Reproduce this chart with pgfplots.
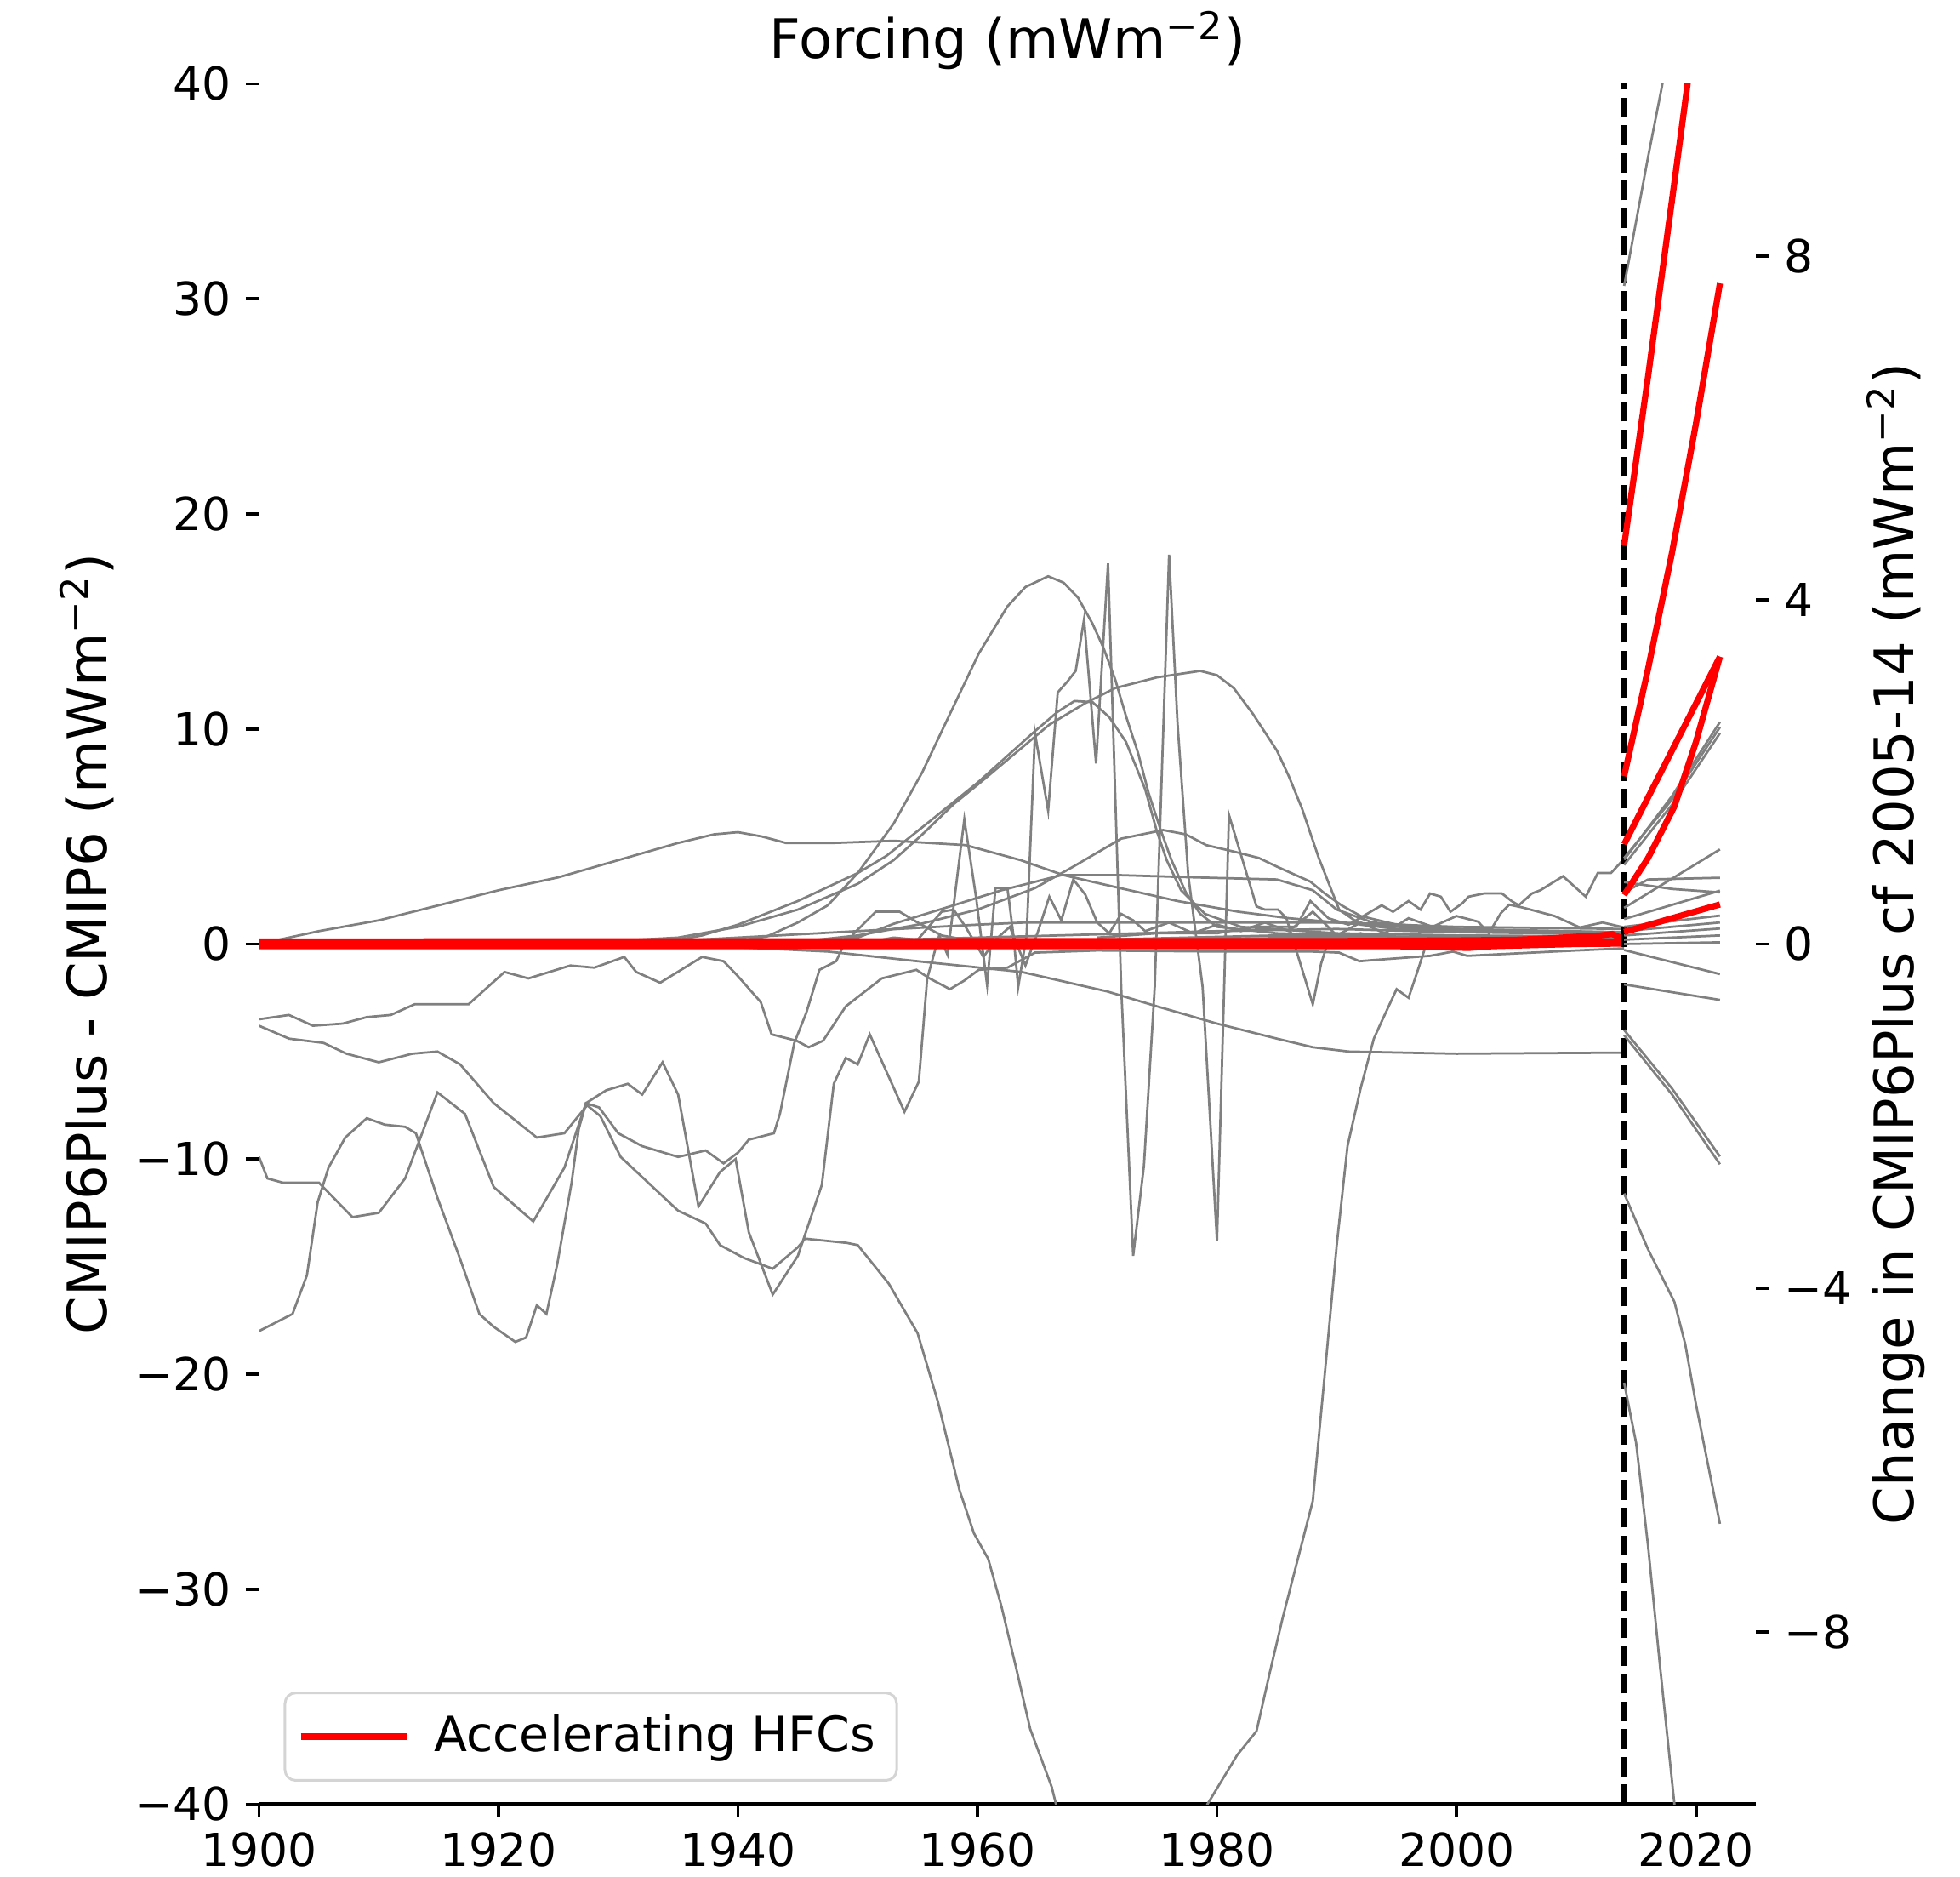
\documentclass[border=0pt]{standalone}
\usepackage{fontspec}
\setmainfont{DejaVu Sans}
\usepackage{pgfplots}
\pgfplotsset{compat=1.18}
\definecolor{lgrey}{RGB}{128,128,128}
\definecolor{hred}{RGB}{255,0,0}
\definecolor{legbd}{RGB}{212,212,212}
\newcommand{\tickfont}{\fontsize{10.7}{12.8}\selectfont}
\newcommand{\labfont}{\fontsize{12.8}{15.4}\selectfont}
\newcommand{\legfont}{\fontsize{11.4}{13.6}\selectfont}
\pgfplotsset{
  base/.style={
    scale only axis, width=351.9pt, height=404.4pt,
    at={(0pt,0pt)}, anchor=south west,
    xmin=1900, xmax=2025,
    tick align=outside, major tick length=3.1pt,
    tick style={black, line width=0.75pt},
    ticklabel style={font=\tickfont},
  },
  gl/.style={lgrey, line width=0.55pt, forget plot},
  rl/.style={hred, line width=1.45pt, forget plot},
}
\begin{document}
\begin{tikzpicture}
\begin{axis}[base,
  ymin=-40, ymax=40,
  axis x line*=bottom, axis y line*=left,
  x axis line style={line width=0.85pt},
  y axis line style={draw=none},
  xtick={1900,1920,1940,1960,1980,2000,2020},
  xticklabels={1900,1920,1940,1960,1980,2000,2020},
  ytick={-40,-30,-20,-10,0,10,20,30,40},
  yticklabels={−40,−30,−20,−10,0,10,20,30,40},
  legend style={at={(0,0)}, anchor=south west, xshift=5.8pt, yshift=5.3pt,
    draw=legbd, line width=0.6pt, rounded corners=2.5pt, fill=white,
    font=\legfont, inner xsep=3pt, inner ysep=3.2pt,
    /tikz/every odd column/.append style={column sep=3.6pt}},
  legend cell align=left,
  legend image code/.code={\draw[#1] (0pt,0pt) -- (25pt,0pt);},
]
% A
\addplot[gl] coordinates {(1900,0)(1905,0.6)(1910,1.1)(1915,1.8)(1920,2.5)(1925,3.1)(1930,3.9)(1935,4.7)(1938,5.1)(1940,5.2)(1942,5.0)(1944,4.7)(1948,4.7)(1953,4.8)(1959,4.6)(1963.6,3.9)(1967.2,3.2)(1971.9,2.6)(1976.7,2.0)(1981.8,1.5)(1986,1.2)(1990,1.0)(1995,0.8)(2000,0.7)(2005,0.6)(2010,0.5)(2014,0.45)};
% B
\addplot[gl] coordinates {(1930,0)(1935,0.05)(1940,0.15)(1942.4,0.35)(1945,1.0)(1947.5,1.8)(1950,3.3)(1953,5.6)(1955.4,8.0)(1957.7,10.7)(1960.1,13.5)(1962.5,15.7)(1964,16.6)(1965.9,17.1)(1967.2,16.8)(1968.4,16.1)(1969.6,14.9)(1970.5,13.8)(1971.5,12.3)(1972.4,10.6)(1973.4,8.9)(1974.3,7.0)(1975.3,5.3)(1976.2,3.9)(1977.4,2.4)(1978.6,1.4)(1980,0.8)(1985,0.5)(1995,0.35)(2014,0.3)};
% C1
\addplot[gl] coordinates {(1933,0)(1937,0.4)(1940,0.9)(1945,2.0)(1950,3.3)(1952.4,4.1)(1956,5.7)(1960,7.5)(1964.8,9.9)(1966.7,10.8)(1968.1,11.3)(1969.6,11.25)(1971,10.55)(1972.4,9.4)(1974,7.2)(1975,5.2)(1975.8,3.9)(1977,2.5)(1979,1.4)(1982,0.8)(1990,0.5)(2000,0.4)(2014,0.35)};
% C2
\addplot[gl] coordinates {(1925,0)(1935,0.3)(1940,0.8)(1945,1.6)(1950,2.8)(1953,3.9)(1955.4,5.1)(1958,6.5)(1960,7.4)(1963,8.8)(1966,10.2)(1969,11.2)(1971.5,11.9)(1975,12.4)(1978.6,12.7)(1980,12.5)(1981.4,11.9)(1983,10.7)(1985,9.0)(1986,7.8)(1987.1,6.3)(1988.5,4.0)(1990.2,1.6)(1992,0.9)(1995,0.7)(2005,0.6)(2014,0.55)};
% D
\addplot[gl] coordinates {(1940,0)(1945,0.1)(1950,0.4)(1955,0.9)(1960,1.6)(1964.8,2.6)(1968,3.6)(1972,4.9)(1975.5,5.3)(1977.4,5.1)(1979.1,4.6)(1981.4,4.3)(1983.5,4.0)(1985,3.6)(1987.8,2.9)(1989,2.35)(1990.4,1.8)(1992,1.3)(1995,0.9)(2000,0.6)(2014,0.45)};
% E
\addplot[gl] coordinates {(1945,0)(1950,0.3)(1953,0.94)(1958,1.8)(1962,2.5)(1967,3.2)(1972,3.2)(1978,3.1)(1985,3.0)(1988,2.5)(1990,1.6)(1993,1.0)(2000,0.7)(2014,0.55)};
% F
\addplot[gl] coordinates {(1930,0)(1940,0.3)(1950,0.6)(1960,0.9)(1964,1.0)(1990,1.0)(2000,0.8)(2014,0.7)};
% G
\addplot[gl] coordinates {(1930,0)(1940,-0.15)(1947.5,-0.35)(1955,-0.8)(1963.7,-1.3)(1970.8,-2.2)(1975,-2.9)(1980,-3.7)(1985,-4.4)(1988,-4.8)(1991,-5.0)(2000,-5.1)(2014,-5.05)};
% H1, H2
\addplot[gl] coordinates {(1940,0)(1960,0.3)(1980,0.6)(1990,0.7)(2000,0.55)(2014,0.45)};
\addplot[gl] coordinates {(1950,0)(1970,0.2)(1985,0.4)(2000,0.3)(2014,0.3)};
% P
\addplot[gl] coordinates {(1900,-18.0)(1902.8,-17.2)(1904,-15.4)(1904.9,-12.0)(1905.8,-10.4)(1907.2,-9.0)(1909,-8.1)(1910.5,-8.4)(1912.2,-8.5)(1913.1,-8.8)(1914.9,-11.8)(1916.7,-14.5)(1918.4,-17.2)(1919.6,-17.8)(1921.4,-18.5)(1922.3,-18.3)(1923.2,-16.8)(1924,-17.2)(1924.9,-14.9)(1926.1,-11.1)(1926.7,-8.6)(1927.3,-7.4)(1929,-6.8)(1930.8,-6.5)(1932,-7.0)(1933.7,-5.5)(1935,-7.0)(1936.7,-12.2)(1938.5,-10.6)(1939.8,-10.0)(1940.9,-13.4)(1942.9,-16.3)(1945,-14.5)(1947,-11.2)(1948,-6.5)(1949,-5.3)(1950,-5.6)(1951,-4.2)(1953.9,-7.8)(1955.1,-6.4)(1955.8,-1.6)(1956.8,0.4)(1957.5,-0.5)(1958.9,5.8)(1959.9,2.1)(1960.8,-1.9)(1961.5,2.6)(1962.5,2.6)(1963,0.4)(1963.4,-2.0)(1964.1,0.4)(1964.8,9.8)(1965.9,6.2)(1966.7,11.7)(1967.5,12.2)(1968.2,12.7)(1968.9,15.1)(1969.9,8.4)(1970.9,17.7)(1972,-2)(1973,-14.5)(1973.9,-10.3)(1974.8,-2)(1976,18.1)(1976.7,10.3)(1977.6,3.2)(1978.8,-2)(1980,-13.8)(1980.6,-2)(1981,6.0)(1983.3,1.75)(1984,1.6)(1985.1,1.6)(1985.8,1.2)(1988,-2.8)(1988.7,-0.9)(1989.1,-0.2)(1990,0.3)(1992,0.5)(1995,0.2)(2000,0.1)(2014,0.1)};
% X
\addplot[gl] coordinates {(1900,-9.9)(1900.7,-10.9)(1902,-11.1)(1905,-11.1)(1907.8,-12.7)(1910,-12.5)(1912.2,-10.9)(1914.9,-6.9)(1917.2,-7.9)(1919.6,-11.3)(1922.9,-12.9)(1925.5,-10.4)(1927.3,-7.4)(1928.4,-7.6)(1930,-8.8)(1932,-9.4)(1935,-9.9)(1937.3,-9.6)(1938.8,-10.2)(1940,-9.7)(1940.9,-9.1)(1943,-8.8)(1943.5,-7.9)(1944.7,-4.6)(1945.7,-3.2)(1946.8,-1.2)(1948.2,-0.8)(1948.7,-0.2)(1949.7,0.5)(1951.5,1.5)(1953.5,1.5)(1955,1.0)(1957,0.4)(1960,0.1)(1970,0.2)(1990,0.3)(2014,0.3)};
% Y (deep dip)
\addplot[gl] coordinates {(1900,-3.8)(1902.5,-4.4)(1905.4,-4.6)(1907.3,-5.1)(1910,-5.5)(1912.8,-5.1)(1914.9,-5.0)(1916.8,-5.6)(1919.6,-7.4)(1923.2,-9.0)(1925.5,-8.8)(1927.4,-7.5)(1928.5,-8.0)(1930.2,-9.9)(1935,-12.4)(1937.3,-13.0)(1938.5,-14.0)(1940.5,-14.6)(1942.9,-15.1)(1945,-14.1)(1945.6,-13.7)(1949.1,-13.9)(1950,-14.0)(1952.6,-15.8)(1955,-18.1)(1956.7,-21.3)(1958.5,-25.4)(1959.7,-27.4)(1960.9,-28.6)(1962,-30.8)(1963.2,-33.6)(1964.4,-36.5)(1966.2,-39.2)(1967,-41)(1970,-45)(1973,-47)(1976,-45)(1978,-42)(1979.2,-40)(1981.7,-37.7)(1983.3,-36.6)(1984.4,-33.9)(1985.5,-31.3)(1988,-25.9)(1989.1,-19.4)(1990,-14.0)(1990.9,-9.4)(1992,-6.7)(1993.1,-4.4)(1993.75,-3.6)(1995,-2.1)(1996,-2.5)(1996.9,-1.0)(1997.6,0.2)(2000,0.2)(2014,0.2)};
% Z
\addplot[gl] coordinates {(1900,-3.5)(1902.5,-3.3)(1904.5,-3.8)(1907,-3.7)(1909,-3.4)(1911,-3.3)(1913,-2.8)(1917.5,-2.8)(1920.5,-1.3)(1922.5,-1.6)(1926,-1.0)(1928,-1.1)(1930.5,-0.6)(1931.5,-1.3)(1933.5,-1.8)(1937,-0.6)(1938.8,-0.8)(1940,-1.5)(1941.9,-2.7)(1942.8,-4.2)(1944.9,-4.5)(1945.9,-4.8)(1947.1,-4.5)(1949,-2.9)(1952,-1.6)(1954.9,-1.2)(1956,-1.6)(1957.7,-2.1)(1958.9,-1.7)(1960.1,-1.2)(1962.5,-1.1)(1964.8,-0.4)(1970,-0.3)(1980,-0.35)(1988,-0.35)(1990.2,-0.4)(1991.9,-0.8)(1993,-0.75)(1997.8,-0.55)(1999.7,-0.35)(2000.9,-0.55)(2006.3,-0.4)(2010,-0.3)(2014,-0.2)};
% N1
\addplot[gl] coordinates {(1970,0.3)(1975,0.5)(1980,0.5)(1983,0.8)(1986.6,0.8)(1987.8,2.0)(1989.3,1.2)(1991,0.9)(1993.75,1.8)(1994.7,1.5)(1996,2.0)(1997,1.6)(1997.8,2.35)(1998.7,2.2)(1999.5,1.5)(2000.5,1.9)(2001,2.2)(2002.3,2.35)(2003.8,2.35)(2004.6,2.0)(2005.2,1.8)(2006.3,2.35)(2007,2.5)(2008.9,3.15)(2010.8,2.2)(2011.8,3.3)(2012.9,3.3)(2013.9,3.9)};
% N3
\addplot[gl] coordinates {(1950,0)(1953,0.3)(1955,0.2)(1957,1.5)(1958,1.6)(1959,0.8)(1960.5,-0.6)(1961.5,0.2)(1962.7,0.8)(1964,-1.0)(1965,0.5)(1966,2.2)(1967,1.1)(1968,3.0)(1969,2.3)(1970,1.0)(1971,0.5)(1972,1.4)(1973,1.1)(1974,0.6)(1976,1.0)(1978,0.5)(1980,0.9)(1982,0.6)(1984,1.0)(1986,0.6)(1988,1.5)(1990,0.4)(1992,1.0)(1994,0.5)(1996,1.2)(1998,0.8)(2000,1.3)(2001.8,1.04)(2002.7,0.5)(2003.7,1.43)(2004.4,1.83)(2005.5,1.7)(2008.2,1.3)(2010.3,0.77)(2012.2,1.0)(2014,0.77)};
% red historical
\addplot[hred, line width=1.45pt] coordinates {(1900,0.12)(1990,0.14)(2000,0.17)(2005,0.2)(2008,0.27)(2010,0.34)(2012,0.4)(2013,0.47)(2014,0.22)};
\addlegendentry{Accelerating HFCs}
\addplot[rl] coordinates {(1900,0.0)(1995,0.0)(2005,0.05)(2010,0.15)(2014,0.1)};
\addplot[rl] coordinates {(1900,-0.1)(1995,-0.1)(2001,-0.18)(2003,-0.1)(2010,0.0)(2014,0.02)};
% dashed line
\addplot[black, line width=1.3pt, dash pattern=on 4.6pt off 1.9pt, forget plot] coordinates {(2014,-40)(2014,40)};
\end{axis}
\begin{axis}[base,
  ymin=-10, ymax=10,
  axis x line=none, axis y line*=right,
  y axis line style={draw=none},
  ytick={-8,-4,0,4,8},
  yticklabels={−8,−4,0,4,8},
]
\addplot[gl] coordinates {(2014,7.65)(2015,8.4)(2016,9.15)(2017.2,10.0)(2018,10.6)(2022,13.5)};
\addplot[gl] coordinates {(2014,0.98)(2018,1.72)(2022,2.58)};
\addplot[gl] coordinates {(2014,0.92)(2018,1.62)(2022,2.45)};
\addplot[gl] coordinates {(2014,1.0)(2018,1.68)(2022,2.52)};
\addplot[gl] coordinates {(2014,0.42)(2018,0.76)(2022,1.10)};
\addplot[gl] coordinates {(2014,0.6)(2016,0.75)(2022,0.77)};
\addplot[gl] coordinates {(2014,0.72)(2018,0.64)(2022,0.6)};
\addplot[gl] coordinates {(2014,0.29)(2022,0.62)};
\addplot[gl] coordinates {(2014,0.2)(2022,0.33)};
\addplot[gl] coordinates {(2014,0.15)(2022,0.25)};
\addplot[gl] coordinates {(2014,0.1)(2022,0.18)};
\addplot[gl] coordinates {(2014,0.05)(2022,0.1)};
\addplot[gl] coordinates {(2014,0.0)(2022,0.02)};
\addplot[gl] coordinates {(2014,-0.07)(2022,-0.35)};
\addplot[gl] coordinates {(2014,-0.47)(2022,-0.65)};
\addplot[gl] coordinates {(2014,-1.06)(2018,-1.75)(2022,-2.56)};
\addplot[gl] coordinates {(2014,-1.0)(2018,-1.68)(2022,-2.47)};
\addplot[gl] coordinates {(2014,-2.9)(2016,-3.55)(2018.2,-4.16)(2019.1,-4.65)(2020,-5.35)(2021,-6.05)(2022,-6.74)};
\addplot[gl] coordinates {(2014,-5.1)(2015,-5.8)(2016,-7.0)(2017,-8.4)(2018.2,-10.0)(2019,-11.0)(2022,-14.0)};
\addplot[rl] coordinates {(2014,4.63)(2016,6.6)(2018,8.65)(2019.3,10.0)(2022,12.9)};
\addplot[rl] coordinates {(2014,1.95)(2016,3.2)(2018,4.55)(2020,6.05)(2022,7.68)};
\addplot[rl] coordinates {(2014,1.16)(2018,2.25)(2022,3.34)};
\addplot[rl] coordinates {(2014,0.57)(2016,1.0)(2018.2,1.6)(2020,2.35)(2022,3.34)};
\addplot[rl] coordinates {(2014,0.14)(2022,0.46)};
\end{axis}
\node[anchor=base, font=\labfont] at (175.95pt,410.4pt) {Forcing (mWm\textsuperscript{−2})};
\node[rotate=90, anchor=base, font=\labfont] at (-35.9pt,202.2pt) {CMIP6Plus - CMIP6 (mWm\textsuperscript{−2})};
\node[rotate=90, anchor=base, font=\labfont] at (389pt,202.2pt) {Change in CMIP6Plus cf 2005-14 (mWm\textsuperscript{−2})};
\pgfresetboundingbox
\path[use as bounding box] (-60.9pt,-17.0pt) rectangle (399.9pt,424.1pt);
\end{tikzpicture}
\end{document}
